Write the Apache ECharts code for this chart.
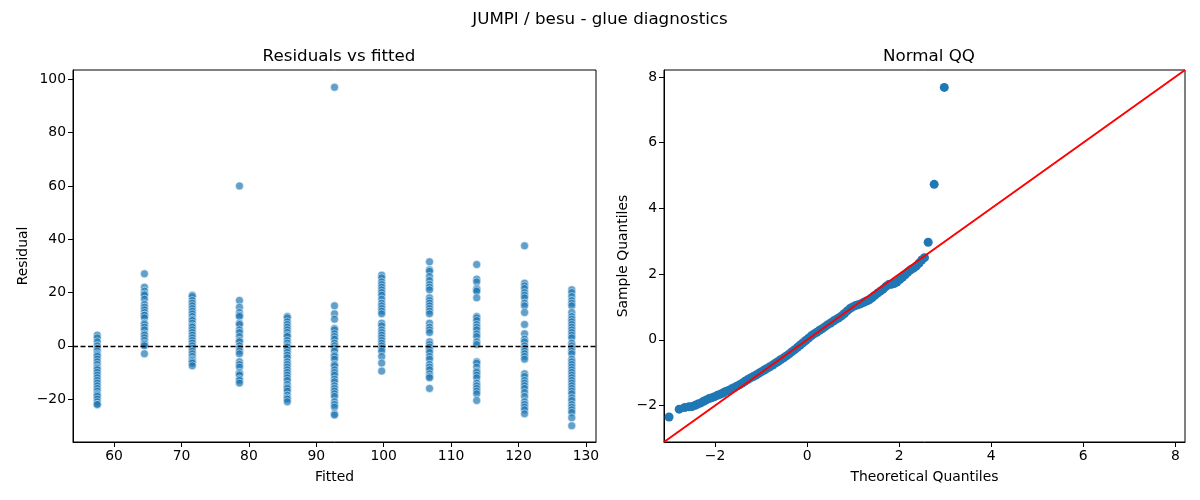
<!DOCTYPE html>
<html>
<head>
<meta charset="utf-8">
<script src="https://cdn.jsdelivr.net/npm/echarts@6/dist/echarts.min.js"></script>
<style>
  html, body { margin: 0; padding: 0; background: #fff; }
  #chart { width: 1200px; height: 500px; }
</style>
</head>
<body>
<div id="chart"></div>
<script>
// fitted values (one column of residuals each)
var fitted = [57.5, 64.5, 71.6, 78.6, 85.7, 92.7, 99.7, 106.8, 113.8, 120.9, 127.9];

// residuals, top to bottom
var resid57 = [4, 3, 1.5, 0, -1, -2, -3, -3.5, -4, -5, -6, -7, -8, -8.5, -9, -10, -11, -12, -13, -14, -15, -16, -17, -18, -18.5, -19, -20, -21, -22, -22];
var resid64 = [27, 22, 20.5, 19.5, 19, 17.5, 15.5, 14.5, 13.5, 12.5, 11.5, 11.5, 10.5, 8.5, 8, 7, 6, 4.5, 4, 3, 2, 1, 0.5, 0, -3];
var resid71 = [19, 18.5, 17, 16, 15, 14, 13, 12, 11, 10, 9.5, 8.5, 7.5, 7, 6, 5, 4, 3, 2, 1, 0, -1, -2, -3, -4, -5, -5.5, -6, -6.5, -7.5];
var resid78 = [60, 17, 14.5, 12.5, 11.5, 11, 8.5, 8, 6, 5, 3.5, 2, 1.5, 0, -1, -2, -3, -6, -7, -8, -10, -10.5, -11, -12.5, -13, -14];
var resid85 = [11, 10.5, 9, 8, 7, 6, 5, 4, 3.5, 2, 1, 0, -0.5, -1.5, -2.5, -3.5, -4.5, -6, -7, -8, -9, -10, -11, -12, -13, -14.5, -15.5, -16, -17, -18.5, -19.5, -20, -21];
var resid92 = [97, 15, 12, 10, 6.5, 6, 4.5, 3.5, 2.5, 1, 0, -1, -2, -3.5, -4, -5, -7, -7.5, -9, -10, -11, -12.5, -13.5, -15, -16, -17, -18, -19, -21, -22, -23, -25.5, -26];
var resid99 = [26.5, 25.5, 24, 23, 22, 21, 20, 19, 17.5, 16, 15, 14, 13, 12, 8.5, 7.5, 6, 5, 4, 3, 2, 1, 0, -1, -2, -4, -6.5, -9.5];
var resid106 = [31.5, 28.5, 28, 26, 24.5, 23, 22, 21, 18, 17, 16, 15, 14, 13, 12, 8.5, 7, 6, 5, 1.5, 0.5, -0.5, -1.5, -2.5, -4, -5, -7, -8, -9, -10.5, -11.5, -12, -16];
var resid113 = [30.5, 25, 24, 21.5, 21, 20.5, 18, 11, 10.5, 9.5, 8, 7, 6, 4.5, 3.5, 1.5, 0.5, -6, -6.5, -8, -9.5, -10, -11, -12, -14, -15, -16, -17, -18, -20.5];
var resid120 = [37.5, 23.5, 22.5, 21.5, 20, 19, 18, 16, 15, 12.5, 8, 4.5, 2.5, 1.5, 0, -1, -2, -3, -4, -5, -10.5, -11.5, -13, -14, -15, -16, -17.5, -19, -21, -22, -23, -24, -25.5];
var resid127 = [21, 20, 18.5, 17, 16, 15, 12.5, 11, 10, 9, 8, 7, 6, 5, 4, 3, 1, 0, -1, -2, -3, -5, -6, -7, -8, -9, -10, -11, -12, -13, -14, -15, -16, -17, -18, -19.5, -20.5, -22, -23, -24, -25, -27, -30];
var residCols = [resid57, resid64, resid71, resid78, resid85, resid92, resid99, resid106, resid113, resid120, resid127];

// normal QQ points (theoretical, sample)
var qqTheoretical = [-3.00, -2.78, -2.66, -2.57, -2.50, -2.43, -2.37, -2.31, -2.25, -2.19, -2.13, -2.07, -2.01, -1.95, -1.89, -1.83, -1.77, -1.71, -1.65, -1.59, -1.53, -1.47, -1.41, -1.35, -1.29, -1.23, -1.17, -1.11, -1.05, -0.99, -0.93, -0.87, -0.81, -0.75, -0.69, -0.63, -0.57, -0.51, -0.45, -0.39, -0.33, -0.27, -0.21, -0.15, -0.09, -0.03, 0.03, 0.09, 0.15, 0.21, 0.27, 0.33, 0.39, 0.45, 0.51, 0.57, 0.63, 0.69, 0.75, 0.81, 0.87, 0.93, 0.99, 1.05, 1.11, 1.17, 1.23, 1.29, 1.35, 1.41, 1.47, 1.53, 1.59, 1.65, 1.71, 1.77, 1.83, 1.89, 1.95, 2.01, 2.07, 2.13, 2.19, 2.25, 2.31, 2.37, 2.43, 2.49, 2.55, 2.63, 2.76, 2.98];
var qqSample = [-2.35, -2.11, -2.06, -2.04, -2.03, -1.99, -1.95, -1.92, -1.87, -1.83, -1.79, -1.76, -1.73, -1.69, -1.66, -1.62, -1.57, -1.54, -1.50, -1.46, -1.41, -1.37, -1.32, -1.26, -1.21, -1.16, -1.12, -1.07, -1.02, -0.97, -0.92, -0.87, -0.82, -0.77, -0.71, -0.66, -0.60, -0.55, -0.49, -0.43, -0.36, -0.30, -0.23, -0.16, -0.09, -0.02, 0.05, 0.12, 0.18, 0.23, 0.29, 0.34, 0.40, 0.46, 0.51, 0.57, 0.62, 0.67, 0.73, 0.80, 0.88, 0.95, 1.00, 1.04, 1.07, 1.10, 1.14, 1.18, 1.22, 1.28, 1.35, 1.42, 1.48, 1.54, 1.62, 1.68, 1.69, 1.71, 1.76, 1.83, 1.90, 1.98, 2.06, 2.13, 2.18, 2.24, 2.33, 2.43, 2.50, 2.97, 4.73, 7.68];
var qqLimits = [-3.11, 8.21];

// tick labels
var fittedTicks = [60, 70, 80, 90, 100, 110, 120, 130];
var residTicks = [-20, 0, 20, 40, 60, 80, 100];
var qqTicks = [-2, 0, 2, 4, 6, 8];

var scatterData = [];
for (var i = 0; i < fitted.length; i++) {
    for (var j = 0; j < residCols[i].length; j++) {
        scatterData.push([fitted[i], residCols[i][j]]);
    }
}
var qqData = [];
for (var k = 0; k < qqTheoretical.length; k++) {
    qqData.push([qqTheoretical[k], qqSample[k]]);
}

var FONT = "DejaVu Sans";
function minus(v) { return String(v).replace('-', '\u2212'); }

function valAxis(idx, min, max, ticks, name, gap) {
    return {
        type: 'value',
        gridIndex: idx,
        min: min,
        max: max,
        name: name,
        nameLocation: 'middle',
        nameGap: gap,
        nameTextStyle: { color: '#000', fontFamily: FONT, fontSize: 13.9 },
        axisLine: { show: true, onZero: false, lineStyle: { color: '#000', width: 1 } },
        axisTick: { show: true, inside: false, length: 5, customValues: ticks, lineStyle: { color: '#000', width: 1 } },
        axisLabel: {
            show: true, customValues: ticks, margin: 7,
            color: '#000', fontFamily: FONT, fontSize: 13.9,
            formatter: minus
        },
        splitLine: { show: false }
    };
}

var chart = echarts.init(document.getElementById('chart'), null, { renderer: 'canvas' });
var option = {
    animation: false,
    backgroundColor: '#fff',
    title: [
        { text: 'JUMPI / besu - glue diagnostics', left: 'center', top: 6,
          textStyle: { color: '#000', fontFamily: FONT, fontSize: 16.7, fontWeight: 'normal' } },
        { text: 'Residuals vs fitted', left: 334, top: 43, textAlign: 'center',
          textStyle: { color: '#000', fontFamily: FONT, fontSize: 16.7, fontWeight: 'normal' } },
        { text: 'Normal QQ', left: 924, top: 43, textAlign: 'center',
          textStyle: { color: '#000', fontFamily: FONT, fontSize: 16.7, fontWeight: 'normal' } }
    ],
    grid: [
        { left: 73, top: 70, width: 523, height: 372, show: true, borderColor: '#000', borderWidth: 1, backgroundColor: 'transparent' },
        { left: 664, top: 70, width: 521, height: 372, show: true, borderColor: '#000', borderWidth: 1, backgroundColor: 'transparent' }
    ],
    xAxis: [
        valAxis(0, 53.9, 131.5, fittedTicks, 'Fitted', 28),
        valAxis(1, qqLimits[0], qqLimits[1], qqTicks, 'Theoretical Quantiles', 28)
    ],
    yAxis: [
        valAxis(0, -36.1, 103.5, residTicks, 'Residual', 43),
        valAxis(1, qqLimits[0], qqLimits[1], qqTicks, 'Sample Quantiles', 34)
    ],
    series: [
        {
            type: 'scatter',
            xAxisIndex: 0, yAxisIndex: 0,
            symbolSize: 8,
            itemStyle: { color: '#1f77b4', opacity: 0.7, borderColor: '#fff', borderWidth: 0.7 },
            data: scatterData,
            z: 2,
            markLine: {
                silent: true,
                symbol: 'none',
                label: { show: false },
                lineStyle: { color: '#000', width: 1.3, type: [5, 2.5], opacity: 1 },
                data: [{ yAxis: 0 }],
                z: 5
            }
        },
        {
            type: 'scatter',
            xAxisIndex: 1, yAxisIndex: 1,
            symbolSize: 9,
            itemStyle: { color: '#1f77b4', opacity: 1 },
            data: qqData,
            z: 2
        },
        {
            type: 'line',
            xAxisIndex: 1, yAxisIndex: 1,
            showSymbol: false,
            symbol: 'none',
            lineStyle: { color: '#ff0000', width: 2 },
            data: [[qqLimits[0], qqLimits[0]], [qqLimits[1], qqLimits[1]]],
            z: 3
        }
    ]
};
chart.setOption(option);
</script>
</body>
</html>
